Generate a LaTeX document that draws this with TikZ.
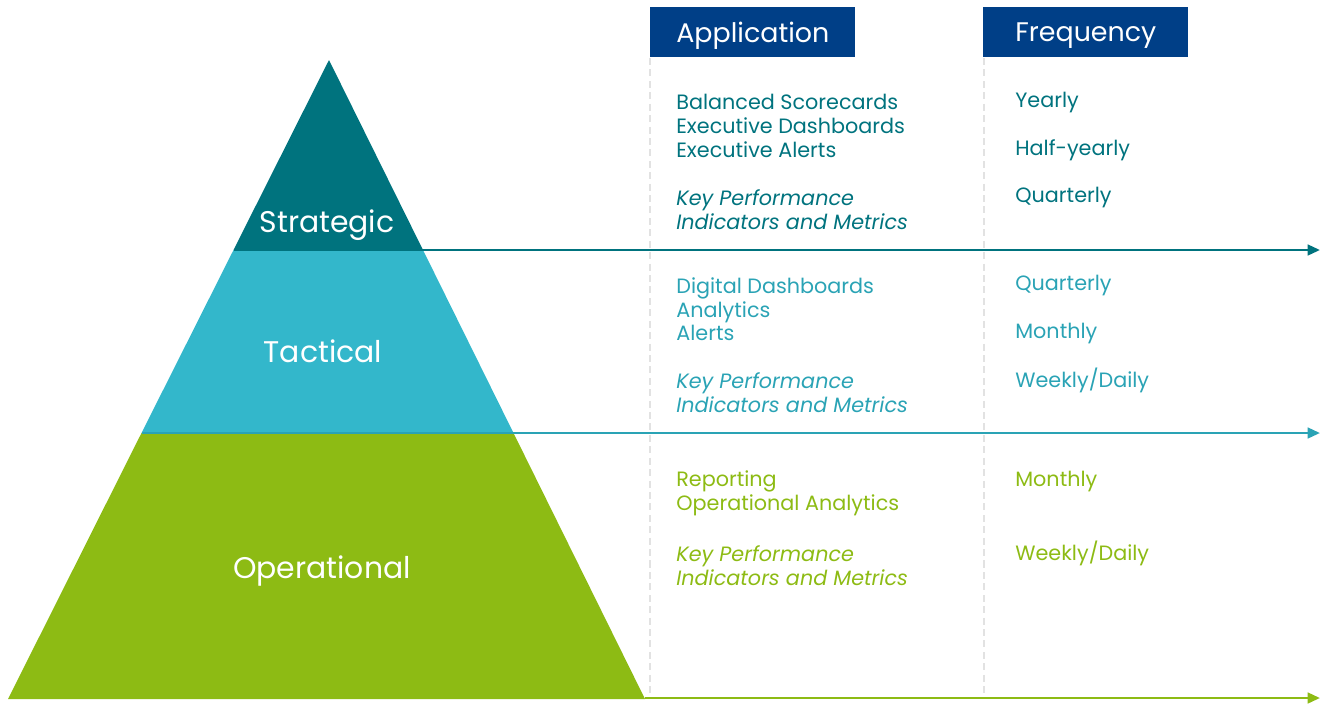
\documentclass[tikz,border=0pt]{standalone}
\usepackage{fontspec}
\setmainfont{Poppins}
\usetikzlibrary{arrows.meta,positioning}

\definecolor{stratcol}{HTML}{00737E}
\definecolor{taccol}{HTML}{33B7CB}
\definecolor{tacline}{HTML}{2AA3B5}
\definecolor{opcol}{HTML}{8DBB14}
\definecolor{headcol}{HTML}{003F87}
\definecolor{gridcol}{HTML}{E2E2E2}

\tikzset{
  header/.style={fill=headcol, text=white, inner sep=0pt, anchor=north west,
    minimum width=4.1cm, minimum height=1cm, text depth=0pt,
    font=\fontsize{15.3}{18}\selectfont},
  level/.style={text=white, yshift=-2pt, font=\fontsize{17}{20}\selectfont},
  item/.style={anchor=west, align=left, inner sep=0pt, yshift=-1.3pt,
    font=\fontsize{11.8}{13.6}\selectfont},
  kpi/.style={item, font=\fontsize{11.8}{13.6}\selectfont\itshape},
  divider/.style={draw=gridcol, line width=1pt, dash pattern=on 4pt off 2.5pt},
  flow/.style={-{Triangle[length=7pt,width=6pt]}, line width=1.5pt},
}

\begin{document}
\begin{tikzpicture}[x=0.02cm, y=-0.02cm]
  \useasboundingbox (0,0) rectangle (1325,704);

  % pyramid corners
  \coordinate (apex)   at (329,60);
  \coordinate (sleft)  at (233.5,250);
  \coordinate (sright) at (423,250);
  \coordinate (tleft)  at (141.5,433);
  \coordinate (tright) at (513.5,433);
  \coordinate (bleft)  at (8,699);
  \coordinate (bright) at (645,699);

  % arrow ends
  \coordinate (send) at (1320,250);
  \coordinate (tend) at (1320,433);
  \coordinate (ostart) at (645,698);
  \coordinate (oend) at (1320,698);

  % column dividers
  \coordinate (atop) at (650,58);
  \coordinate (abot) at (650,695);
  \coordinate (ftop) at (984,58);
  \coordinate (fbot) at (984,695);
  \draw[divider] (atop) -- (abot);
  \draw[divider] (ftop) -- (fbot);

  % pyramid bands
  \fill[stratcol] (apex) -- (sright) -- (sleft) -- cycle;
  \fill[taccol]   (sleft) -- (sright) -- (tright) -- (tleft) -- cycle;
  \fill[opcol]    (tleft) -- (tright) -- (bright) -- (bleft) -- cycle;

  \node[level] (strategic)   at (327,222) {Strategic};
  \node[level] (tactical)    at (323,348) {Tactical};
  \node[level] (operational) at (322,567) {Operational};

  % time lines
  \draw[flow, stratcol] (sleft) -- (send);
  \draw[flow, tacline]  (tleft) -- (tend);
  \draw[flow, opcol]    (ostart) -- (oend);

  % column headers
  \node[header] (application) at (650,7) {Application};
  \node[header] (frequency)   at (983,7) {Frequency};

  % strategic rows
  \node[item, text=stratcol] (sapp) at (676,124)
    {Balanced Scorecards\\Executive Dashboards\\Executive Alerts};
  \node[kpi, text=stratcol] (skpi) at (676,207)
    {Key Performance\\Indicators and Metrics};
  \node[item, text=stratcol] (sf1) at (1015,100) {Yearly};
  \node[item, text=stratcol] (sf2) at (1015,148) {Half-yearly};
  \node[item, text=stratcol] (sf3) at (1015,195) {Quarterly};

  % tactical rows
  \node[item, text=tacline] (tapp) at (676,307)
    {Digital Dashboards\\Analytics\\Alerts};
  \node[kpi, text=tacline] (tkpi) at (676,390)
    {Key Performance\\Indicators and Metrics};
  \node[item, text=tacline] (tf1) at (1015,283) {Quarterly};
  \node[item, text=tacline] (tf2) at (1015,331) {Monthly};
  \node[item, text=tacline] (tf3) at (1015,378) {Weekly/Daily};

  % operational rows
  \node[item, text=opcol] (oapp) at (676,491)
    {Reporting\\Operational Analytics};
  \node[kpi, text=opcol] (okpi) at (676,563)
    {Key Performance\\Indicators and Metrics};
  \node[item, text=opcol] (of1) at (1015,479) {Monthly};
  \node[item, text=opcol] (of2) at (1015,551) {Weekly/Daily};
\end{tikzpicture}
\end{document}
